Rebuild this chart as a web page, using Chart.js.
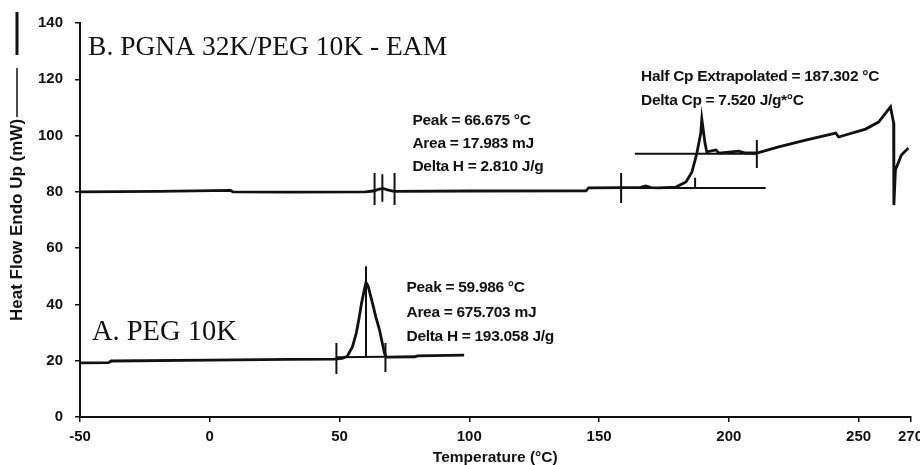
<!DOCTYPE html>
<html>
<head>
<meta charset="utf-8">
<script src="https://cdn.jsdelivr.net/npm/chart.js@4.4.1/dist/chart.umd.min.js"></script>
<style>
  html, body { margin: 0; padding: 0; overflow: hidden; background: #fff; }
  #wrap { width: 929px; height: 465px; position: relative; }
</style>
</head>
<body>
<div id="wrap"><canvas id="dsc"></canvas></div>
<script>
// tick labels
const xTicks = [-50, 0, 50, 100, 150, 200, 250, 270];

// A. PEG 10K trace
const pegTemp = [-50, -39, -38, 0, 30, 48, 51, 53, 55, 56.5, 57.5, 58.5, 59.5, 60.2, 61, 62.7, 64, 65.4, 67.3, 68, 79, 80, 98];
const pegFlow = [19.2, 19.3, 19.9, 20.2, 20.5, 20.6, 20.8, 21.6, 25, 30, 35, 40.5, 45, 47.8, 46.5, 40.5, 35.5, 31, 22.7, 21.3, 21.4, 21.7, 22.0];

// B. PGNA 32K/PEG 10K - EAM trace
const pgnaTemp = [-50, -20, 8, 9, 30, 60, 63, 65, 66.7, 68.5, 71, 100, 145, 146, 160, 166, 168, 170, 173, 179.6,
  183.5, 185.8, 187, 187.7, 189.2, 189.6, 190.8, 191.5, 195, 196.2, 203.8, 206.5, 210.8, 219.2, 229.6,
  241.2, 242.3, 252.7, 257.7, 262.3, 263.5, 263.6, 264.2, 266.5, 269.2];
const pgnaFlow = [80.0, 80.2, 80.5, 80.0, 79.9, 80.0, 80.3, 80.9, 81.2, 80.7, 80.2, 80.3, 80.4, 81.4, 81.5, 81.6, 82.1, 81.5, 81.4, 81.7,
  83.5, 87.1, 91.3, 93.8, 100.9, 105.9, 97.4, 94.2, 94.9, 93.8, 94.5, 93.8, 93.8, 96.0, 98.4,
  100.9, 99.5, 102.3, 104.8, 110.2, 104.5, 75.3, 87.8, 93.1, 95.6];

// analysis markers: baselines and limit ticks (start/end of each segment)
const markT1 = [48.8, 48.8, 67.7, 60.2, 63.5, 66.5, 71.2, 146, 158.5, 163.8, 210.8, 187];
const markY1 = [21.2, 26.3, 26.3, 53.6, 86.7, 86.3, 86.7, 81.4, 86.7, 93.5, 98.4, 85.0];
const markT2 = [67.7, 48.8, 67.7, 60.2, 63.5, 66.5, 71.2, 214.2, 158.5, 210.8, 210.8, 187];
const markY2 = [21.4, 15.3, 16.0, 21.3, 75.3, 76.5, 75.3, 81.4, 76.0, 93.5, 88.5, 81.5];

// result texts
const pegNotes = ["Peak = 59.986 °C", "Area = 675.703 mJ", "Delta H = 193.058 J/g"];
const pgnaNotes = ["Peak = 66.675 °C", "Area = 17.983 mJ", "Delta H = 2.810 J/g"];
const cpNotes = ["Half Cp Extrapolated = 187.302 °C", "Delta Cp = 7.520 J/g*°C"];

const ink = '#111';
const sans = "'Liberation Sans', Arial, sans-serif";
const toPts = (xs, ys) => xs.map((x, i) => ({ x: x, y: ys[i] }));

const datasets = [
  { data: toPts(pegTemp, pegFlow), borderWidth: 2.8 },
  { data: toPts(pgnaTemp, pgnaFlow), borderWidth: 2.8 }
];
markT1.forEach((t, i) => {
  datasets.push({ data: [{ x: t, y: markY1[i] }, { x: markT2[i], y: markY2[i] }], borderWidth: 2 });
});
datasets.forEach(d => {
  d.showLine = true;
  d.borderColor = ink;
  d.pointRadius = 0;
  d.tension = 0;
});

// texts placed in data space
const notesPlugin = {
  id: 'notes',
  afterDatasetsDraw(chart) {
    const { ctx, scales: { x, y } } = chart;
    ctx.save();
    ctx.fillStyle = ink;
    ctx.textAlign = 'left';
    ctx.textBaseline = 'alphabetic';
    ctx.font = "27.5px 'Liberation Serif', 'Times New Roman', serif";
    ctx.fillText('B. PGNA 32K/PEG 10K - EAM', x.getPixelForValue(-46.9), y.getPixelForValue(128.6));
    ctx.font = "28.5px 'Liberation Serif', 'Times New Roman', serif";
    ctx.fillText('A. PEG 10K', x.getPixelForValue(-45.4), y.getPixelForValue(27.4));

    ctx.font = "bold 15.5px " + sans;
    ctx.letterSpacing = '-0.3px';
    ctx.textBaseline = 'middle';
    const block = (lines, tx, ys) => lines.forEach((s, i) => ctx.fillText(s, x.getPixelForValue(tx), y.getPixelForValue(ys[i])));
    block(pgnaNotes, 78.1, [105.2, 97.0, 88.8]);
    block(cpNotes, 166.2, [120.8, 112.3]);
    block(pegNotes, 75.8, [45.8, 37.0, 28.4]);

    // line sample next to the y title
    const lx = y.left + 17, top = chart.chartArea.top;
    ctx.strokeStyle = ink;
    ctx.lineWidth = 3;
    ctx.beginPath(); ctx.moveTo(lx, top - 11); ctx.lineTo(lx, top + 32); ctx.stroke();
    ctx.lineWidth = 1.5;
    ctx.beginPath(); ctx.moveTo(lx, top + 45); ctx.lineTo(lx, top + 94); ctx.stroke();
    ctx.restore();
  }
};

const tickFont = { family: sans, size: 15, weight: 'bold' };

new Chart(document.getElementById('dsc'), {
  type: 'scatter',
  data: { datasets: datasets },
  options: {
    responsive: true,
    maintainAspectRatio: false,
    animation: false,
    layout: { padding: { top: 23, right: 0, left: 0, bottom: 0 } },
    plugins: { legend: { display: false }, tooltip: { enabled: false } },
    scales: {
      x: {
        type: 'linear',
        min: -50,
        max: 270,
        afterBuildTicks: s => { s.ticks = xTicks.map(v => ({ value: v })); },
        afterFit: s => { s.height = 48; },
        grid: { drawOnChartArea: false, tickLength: 5, color: ink, lineWidth: 1.5 },
        border: { color: ink, width: 2 },
        ticks: { color: ink, font: tickFont, padding: 6, maxRotation: 0, autoSkip: false },
        title: { display: true, text: 'Temperature (°C)', color: ink, font: { family: sans, size: 15.5, weight: 'bold' }, padding: { top: 0, bottom: -2 } }
      },
      y: {
        min: 0,
        max: 140,
        afterFit: s => { s.width = 80; },
        grid: { drawOnChartArea: false, tickLength: 5, color: ink, lineWidth: 1.5 },
        border: { color: ink, width: 2 },
        ticks: { color: ink, font: tickFont, stepSize: 20, padding: 12 },
        title: { display: true, text: 'Heat Flow Endo Up (mW)', color: ink, font: { family: sans, size: 17, weight: 'bold' }, padding: { top: 7, bottom: 0 } }
      }
    }
  },
  plugins: [notesPlugin]
});
</script>
</body>
</html>
